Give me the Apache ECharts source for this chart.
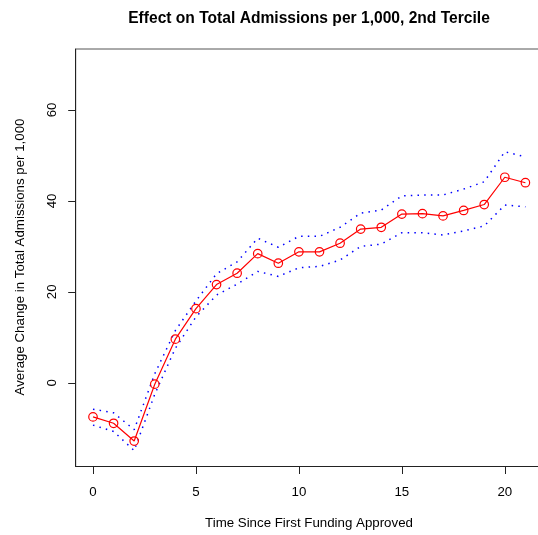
<!DOCTYPE html>
<html>
<head>
<meta charset="utf-8">
<script src="https://cdn.jsdelivr.net/npm/echarts@6/dist/echarts.min.js"></script>
<style>
html,body{margin:0;padding:0;background:#fff;}
#chart{width:538px;height:535px;}
</style>
</head>
<body>
<div id="chart"></div>
<script>
const years = [0,1,2,3,4,5,6,7,8,9,10,11,12,13,14,15,16,17,18,19,20,21];
const estimate = [-7.5,-8.9,-12.8,-0.3,9.6,16.3,21.6,24.1,28.4,26.3,28.8,28.8,30.7,33.8,34.2,37.1,37.2,36.7,37.9,39.2,45.2,44.0];
const upper = [-5.8,-6.6,-10.3,2.0,11.5,18.0,24.0,26.6,31.8,29.8,32.2,32.2,34.2,37.3,38.0,41.1,41.3,41.3,42.6,44.2,50.8,49.7];
const lower = [-9.3,-10.7,-14.9,-2.5,7.6,14.5,19.3,21.7,24.5,23.4,25.3,25.6,27.0,30.0,30.5,33.0,33.0,32.5,33.4,34.5,39.1,38.7];
const xTicks = [0,5,10,15,20];
const yTicks = [0,20,40,60];

const titleText = 'Effect on Total Admissions per 1,000, 2nd Tercile';
const xTitle = 'Time Since First Funding Approved';
const yTitle = 'Average Change in Total Admissions per 1,000';

const FONT = '"Liberation Sans", Arial, Helvetica, sans-serif';
const pairs = arr => years.map((x, i) => [x, arr[i]]);

const chart = echarts.init(document.getElementById('chart'), null, {renderer: 'canvas'});
const dotted = {color: '#0000ff', width: 1.5, type: [1.5, 5.2], cap: 'butt'};

chart.setOption({
  animation: false,
  backgroundColor: '#fff',
  grid: {left: 75.7, top: 49, width: 467, height: 417.5, outerBoundsMode: 'none', containLabel: false,
    show: true, borderColor: '#555', borderWidth: 1, backgroundColor: 'transparent'},
  xAxis: {
    type: 'value', min: -0.84, max: 21.84,
    axisLine: {show: true, onZero: false, lineStyle: {color: '#222', width: 1}},
    axisTick: {show: true, length: 7.5, lineStyle: {color: '#222'}, customValues: xTicks},
    axisLabel: {color: '#000', fontSize: 13.3, fontFamily: FONT, margin: 19, customValues: xTicks, showMinLabel: true, showMaxLabel: true},
    splitLine: {show: false}
  },
  yAxis: {
    type: 'value', min: -18.4, max: 73.4,
    axisLine: {show: true, onZero: false, lineStyle: {color: '#222', width: 1}},
    axisTick: {show: true, length: 7.5, lineStyle: {color: '#222'}, customValues: yTicks},
    axisLabel: {color: '#000', fontSize: 13.3, fontFamily: FONT, margin: 16.5, rotate: 90, customValues: yTicks},
    splitLine: {show: false}
  },
  graphic: [
    {type: 'text', x: 309, y: 18.5, style: {text: titleText, font: 'bold 15.6px ' + FONT, fill: '#000', align: 'center', verticalAlign: 'middle'}},
    {type: 'text', x: 309, y: 523, style: {text: xTitle, font: '13.3px ' + FONT, fill: '#000', align: 'center', verticalAlign: 'middle'}},
    {type: 'text', x: 20, y: 257, rotation: Math.PI / 2, style: {text: yTitle, font: '13.3px ' + FONT, fill: '#000', align: 'center', verticalAlign: 'middle'}}
  ],
  series: [
    {type: 'line', data: pairs(upper), symbol: 'none', lineStyle: dotted, silent: true, z: 2},
    {type: 'line', data: pairs(lower), symbol: 'none', lineStyle: dotted, silent: true, z: 2},
    {type: 'line', data: pairs(estimate), symbol: 'circle', symbolSize: 8.5,
      lineStyle: {color: '#ff0000', width: 1.2},
      itemStyle: {color: 'rgba(0,0,0,0)', borderColor: '#ff0000', borderWidth: 1.2},
      silent: true, z: 3}
  ]
});
</script>
</body>
</html>
